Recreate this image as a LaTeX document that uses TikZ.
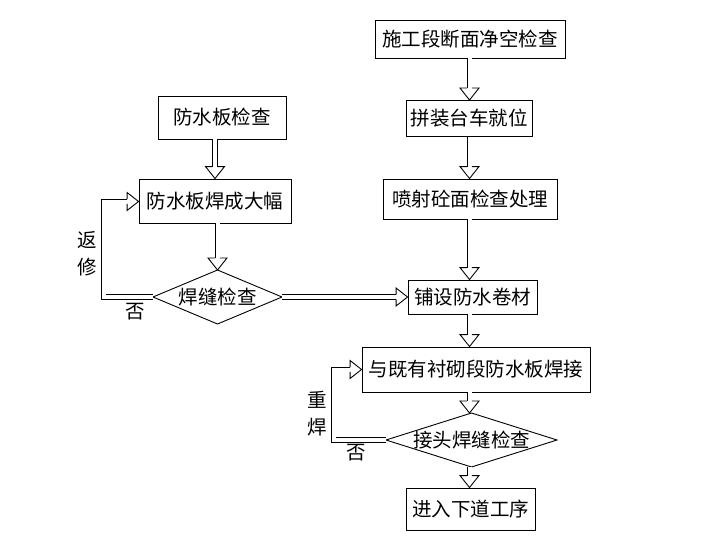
\documentclass[tikz,border=0pt]{standalone}
\usepackage{fontspec}
\setmainfont{Noto Sans CJK SC}
\usetikzlibrary{calc}
\tikzset{
  box/.style={draw, line width=0.9pt, inner sep=0pt, align=center},
  lbl/.style={inner sep=0pt},
  dbl/.style={draw, line width=0.9pt, double, double distance=4pt},
  hd/.style={draw, line width=0.9pt, line join=miter},
}
\newcommand\dnarrow[2]{%
  \draw[dbl] (#1) -- ($(#2)+(0,-12)$);
  \draw[hd] ($(#2)+(-2.45,-12)$) -- ($(#2)+(-9.5,-12)$) -- (#2) -- ($(#2)+(9.5,-12)$) -- ($(#2)+(2.45,-12)$);}
\newcommand\rthead[1]{%
  \draw[hd] ($(#1)+(-11.5,-2.45)$) -- ($(#1)+(-11.5,-9)$) -- (#1) -- ($(#1)+(-11.5,9)$) -- ($(#1)+(-11.5,2.45)$);}
\begin{document}
\begin{tikzpicture}[x=1pt,y=-1pt,font=\fontsize{19.5}{22}\selectfont]
\useasboundingbox (0,0) rectangle (714,559);
% right column
\node[box, minimum width=190, minimum height=38] (n1) at (470,39) {施工段断面净空检查};
\node[box, minimum width=126, minimum height=36] (n2) at (469,118.5) {拼装台车就位};
\node[box, minimum width=174, minimum height=40] (n3) at (470,199) {喷射砼面检查处理};
\node[box, minimum width=129, minimum height=34] (n4) at (472.5,297) {铺设防水卷材};
\node[box, minimum width=228, minimum height=45] (n5) at (476,369.5) {与既有衬砌段防水板焊接};
\node[lbl] (d2) at (471.5,440) {接头焊缝检查};
\coordinate (d2w) at ($(d2)+(-85.5,0)$);
\coordinate (d2e) at ($(d2)+(85.5,0)$);
\coordinate (d2n) at ($(d2)+(0,-27)$);
\coordinate (d2s) at ($(d2)+(0,27)$);
\draw[line width=0.9pt] (d2w) -- (d2n) -- (d2e) -- (d2s) -- cycle;
\node[box, minimum width=129, minimum height=42] (n6) at (470.5,509) {进入下道工序};
\coordinate (colR) at (469.5,0);
% left column
\node[box, minimum width=128, minimum height=43] (m1) at (222,117.5) {防水板检查};
\node[box, minimum width=152, minimum height=44] (m2) at (215,201) {防水板焊成大幅};
\node[lbl] (d1) at (217.5,297) {焊缝检查};
\coordinate (d1w) at ($(d1)+(-64.5,0)$);
\coordinate (d1e) at ($(d1)+(64.5,0)$);
\coordinate (d1n) at ($(d1)+(0,-27)$);
\coordinate (d1s) at ($(d1)+(0,27)$);
\draw[line width=0.9pt] (d1w) -- (d1n) -- (d1e) -- (d1s) -- cycle;
% vertical arrows
\dnarrow{n1.south -| colR}{n2.north -| colR}
\dnarrow{n2.south -| colR}{n3.north -| colR}
\dnarrow{n3.south -| colR}{n4.north -| colR}
\dnarrow{n4.south -| colR}{n5.north -| colR}
\dnarrow{n5.south -| colR}{d2n -| colR}
\dnarrow{d2s -| colR}{n6.north -| colR}
\dnarrow{m1.south -| m2.north}{m2.north}
\dnarrow{m2.south -| d1n}{d1n}
% horizontal arrow
\coordinate (t4) at (d1e -| n4.west);
\draw[dbl] (d1e) -- ($(t4)+(-11.5,0)$);
\rthead{t4}
% loop 1
\coordinate (t2) at ($(m2.west)+(0,0.5)$);
\draw[dbl] (d1w) -- ++(-49.5,0) |- ($(t2)+(-11.5,0)$);
\rthead{t2}
% loop 2
\coordinate (t5) at (n5.west);
\draw[dbl] (d2w) -- ++(-52.5,0) |- ($(t5)+(-11.5,0)$);
\rthead{t5}
% labels
\node[lbl] (la) at (87,240) {返};
\node[lbl] (lb) at (87,267) {修};
\node[lbl] (lc) at (135,312) {否};
\node[lbl] (ld) at (317,400) {重};
\node[lbl] (le) at (317,427) {焊};
\node[lbl] (lf) at (356,453) {否};
\end{tikzpicture}
\end{document}
